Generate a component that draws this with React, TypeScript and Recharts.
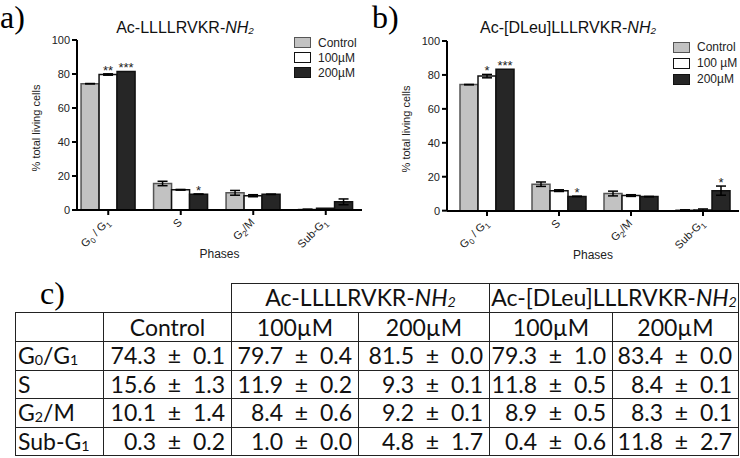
import React from 'react';
import { BarChart, Bar, XAxis, YAxis, ErrorBar, LabelList, Legend } from 'recharts';

// cell-cycle phases (x categories)
const phases = ['G0/G1', 'S', 'G2/M', 'Sub-G1'];

// control, shared by both panels
const controlMean = [74.3, 15.6, 10.1, 0.3];
const controlSem = [0.1, 1.3, 1.4, 0.2];

// panel a: Ac-LLLLRVKR-NH2
const pepA100Mean = [79.7, 11.9, 8.4, 1.0];
const pepA100Sem = [0.4, 0.2, 0.6, 0.0];
const pepA200Mean = [81.5, 9.3, 9.2, 4.8];
const pepA200Sem = [0.0, 0.1, 0.1, 1.7];
const pepA100Stars = ['**', '', '', ''];
const pepA200Stars = ['***', '*', '', ''];

// panel b: Ac-[DLeu]LLLRVKR-NH2
const pepB100Mean = [79.3, 11.8, 8.9, 0.4];
const pepB100Sem = [1.0, 0.5, 0.5, 0.6];
const pepB200Mean = [83.4, 8.4, 8.3, 11.8];
const pepB200Sem = [0.0, 0.1, 0.1, 2.7];
const pepB100Stars = ['*', '', '', ''];
const pepB200Stars = ['***', '*', '', '*'];

const yTicks = [0, 20, 40, 60, 80, 100];
const legendNamesA = ['Control', '100µM', '200µM'];
const legendNamesB = ['Control', '100 µM', '200µM'];

const SANS = '"Liberation Sans", Arial, sans-serif';
const SERIF = '"Liberation Serif", "Times New Roman", serif';
const TABLE_FONT = 'Lato, "Open Sans", sans-serif';

const FILLS = ['#c2c2c2', '#ffffff', '#262626'];
const STROKES = ['#555', '#111', '#111'];

const buildRows = (
  m100: number[], s100: number[], m200: number[], s200: number[],
  st100: string[], st200: string[]
) =>
  phases.map((phase, i) => ({
    phase,
    ctrl: controlMean[i],
    ctrlErr: controlSem[i],
    low: m100[i],
    lowErr: s100[i],
    high: m200[i],
    highErr: s200[i],
    lowStar: st100[i],
    highStar: st200[i],
  }));

const rowsA = buildRows(pepA100Mean, pepA100Sem, pepA200Mean, pepA200Sem, pepA100Stars, pepA200Stars);
const rowsB = buildRows(pepB100Mean, pepB100Sem, pepB200Mean, pepB200Sem, pepB100Stars, pepB200Stars);

// star sits above bar top + error bar
const starLabel = (means: number[], errs: number[]) => (props: any) => {
  const { x, y, width, height, value, index } = props;
  if (!value) return null;
  const perUnit = means[index] ? height / means[index] : 0;
  const top = y - errs[index] * perUnit;
  return (
    <text x={x + width / 2} y={top + 1} textAnchor="middle" fontSize={13} fontFamily={SANS} fill="#222">
      {value}
    </text>
  );
};

const Sub = ({ t }: { t: string }) => (
  <>
    <tspan fontSize={8} dy={3}>{t}</tspan>
    <tspan dy={-3}>{'\u200b'}</tspan>
  </>
);

const PhaseTick = (props: any) => {
  const { x, y, payload } = props;
  const v = payload.value;
  let content: React.ReactNode = v;
  if (v === 'G0/G1') content = (<>G<Sub t="0" /> / G<Sub t="1" /></>);
  if (v === 'G2/M') content = (<>G<Sub t="2" />/M</>);
  if (v === 'Sub-G1') content = (<>Sub-G<Sub t="1" /></>);
  return (
    <g transform={`translate(${x + 2},${y + 8}) rotate(-45)`}>
      <text x={0} y={0} textAnchor="end" fontSize={11} fontFamily={SANS} fill="#222">
        {content}
      </text>
    </g>
  );
};

const yTitle = (props: any) => {
  const vb = props.viewBox;
  const cx = vb.x + 10;
  const cy = vb.y + vb.height / 2 + 3;
  return (
    <text x={cx} y={cy} transform={`rotate(-90 ${cx} ${cy})`} textAnchor="middle" fontSize={11} fontFamily={SANS} fill="#222">
      % total living cells
    </text>
  );
};

const xTitle = (props: any) => {
  const vb = props.viewBox;
  return (
    <text x={vb.x + vb.width / 2} y={vb.y + vb.height + 4} textAnchor="middle" fontSize={12} fontFamily={SANS} fill="#222">
      Phases
    </text>
  );
};

const legendContent = (names: string[], rowH: number) => () => (
  <div style={{ fontFamily: SANS, fontSize: 12, color: '#222' }}>
    {names.map((n, i) => (
      <div key={i} style={{ display: 'flex', alignItems: 'center', height: rowH, whiteSpace: 'nowrap' }}>
        <span
          style={{
            display: 'inline-block', width: 17, height: 11, boxSizing: 'border-box',
            background: FILLS[i], border: `1.5px solid ${STROKES[i]}`, marginRight: 7,
          }}
        />
        {n}
      </div>
    ))}
  </div>
);

type PanelProps = {
  rows: ReturnType<typeof buildRows>;
  names: string[];
  lowMeans: number[]; lowErrs: number[];
  highMeans: number[]; highErrs: number[];
  margin: { top: number; right: number; bottom: number; left: number };
  padLeft: number;
  legendPos: { left: number; top: number };
  legendRowH: number;
};

const Panel = ({ rows, names, lowMeans, lowErrs, highMeans, highErrs, margin, padLeft, legendPos, legendRowH }: PanelProps) => (
  <BarChart width={370} height={262} data={rows} margin={margin} barGap={0} barCategoryGap="12.5%">
    <XAxis
      dataKey="phase"
      height={44}
      padding={{ left: padLeft, right: 0 }}
      axisLine={{ stroke: '#000', strokeWidth: 2 }}
      tickLine={{ stroke: '#000', strokeWidth: 2 }}
      tickSize={5}
      tickMargin={0}
      interval={0}
      tick={<PhaseTick />}
      label={xTitle}
    />
    <YAxis
      type="number"
      domain={[0, 100]}
      ticks={yTicks}
      width={47}
      interval={0}
      axisLine={{ stroke: '#000', strokeWidth: 2 }}
      tickLine={{ stroke: '#000', strokeWidth: 2 }}
      tickSize={5}
      tickMargin={2}
      tick={{ fontSize: 11, fill: '#222', fontFamily: SANS }}
      label={yTitle}
    />
    <Legend
      layout="horizontal"
      verticalAlign="middle"
      align="center"
      wrapperStyle={{ left: legendPos.left, top: legendPos.top, width: 80 }}
      content={legendContent(names, legendRowH)}
    />
    <Bar dataKey="ctrl" name={names[0]} fill={FILLS[0]} stroke={STROKES[0]} strokeWidth={1.5} isAnimationActive={false}>
      <ErrorBar dataKey="ctrlErr" width={5} stroke="#000" strokeWidth={1.5} />
    </Bar>
    <Bar dataKey="low" name={names[1]} fill={FILLS[1]} stroke={STROKES[1]} strokeWidth={1.5} isAnimationActive={false}>
      <ErrorBar dataKey="lowErr" width={5} stroke="#000" strokeWidth={1.5} />
      <LabelList dataKey="lowStar" content={starLabel(lowMeans, lowErrs)} />
    </Bar>
    <Bar dataKey="high" name={names[2]} fill={FILLS[2]} stroke={STROKES[2]} strokeWidth={1.5} isAnimationActive={false}>
      <ErrorBar dataKey="highErr" width={5} stroke="#000" strokeWidth={1.5} />
      <LabelList dataKey="highStar" content={starLabel(highMeans, highErrs)} />
    </Bar>
  </BarChart>
);

const NH2 = ({ size }: { size: number }) => (
  <span style={{ fontStyle: 'italic' }}>
    NH<span style={{ fontSize: size * 0.62, verticalAlign: -size * 0.05 }}>2</span>
  </span>
);

const SubH = ({ t }: { t: string }) => (
  <span style={{ fontSize: '0.62em', verticalAlign: '-0.04em' }}>{t}</span>
);

const rowLabels: React.ReactNode[] = [
  <>G<SubH t="0" />/G<SubH t="1" /></>,
  'S',
  <>G<SubH t="2" />/M</>,
  <>Sub-G<SubH t="1" /></>,
];

const tableCols: [number[], number[]][] = [
  [controlMean, controlSem],
  [pepA100Mean, pepA100Sem],
  [pepA200Mean, pepA200Sem],
  [pepB100Mean, pepB100Sem],
  [pepB200Mean, pepB200Sem],
];
const colWidths = [88, 128, 127, 131, 123, 126];
const rowHeights = [29, 29, 28.5, 28.5, 28.5, 28.5];

const line = '1.5px solid #222';
const cell: React.CSSProperties = { border: line, padding: 0, lineHeight: 1, whiteSpace: 'pre', overflow: 'hidden' };

const SummaryTable = () => (
  <table
    style={{
      position: 'absolute', left: 15, top: 283, borderCollapse: 'collapse', tableLayout: 'fixed',
      width: colWidths.reduce((a, b) => a + b, 0), fontFamily: TABLE_FONT, fontSize: 23, color: '#111',
    }}
  >
    <colgroup>
      {colWidths.map((w, i) => <col key={i} style={{ width: w }} />)}
    </colgroup>
    <tbody>
      <tr style={{ height: rowHeights[0] }}>
        <td style={{ ...cell, border: 'none' }} />
        <td style={{ ...cell, border: 'none' }} />
        <td colSpan={2} style={{ ...cell, textAlign: 'center' }}>Ac-LLLLRVKR-<NH2 size={23} /></td>
        <td colSpan={2} style={{ ...cell, textAlign: 'center' }}>Ac-[DLeu]LLLRVKR-<NH2 size={23} /></td>
      </tr>
      <tr style={{ height: rowHeights[1] }}>
        <td style={cell} />
        {['Control', '100µM', '200µM', '100µM', '200µM'].map((h, i) => (
          <td key={i} style={{ ...cell, textAlign: 'center' }}>{h}</td>
        ))}
      </tr>
      {phases.map((p, r) => (
        <tr key={p} style={{ height: rowHeights[r + 2] }}>
          <td style={{ ...cell, paddingLeft: 2 }}>{rowLabels[r]}</td>
          {tableCols.map(([m, s], c) => (
            <td key={c} style={{ ...cell, textAlign: 'right', paddingRight: 6 }}>
              {`${m[r].toFixed(1)}  ±  ${s[r].toFixed(1)}`}
            </td>
          ))}
        </tr>
      ))}
    </tbody>
  </table>
);

export default function App() {
  return (
    <div style={{ position: 'relative', width: 740, height: 458, background: '#fff', overflow: 'hidden' }}>
      <style>{'body{margin:0}'}</style>

      <div style={{ position: 'absolute', left: 0, top: 0 }}>
        <Panel
          rows={rowsA}
          names={legendNamesA}
          lowMeans={pepA100Mean} lowErrs={pepA100Sem}
          highMeans={pepA200Mean} highErrs={pepA200Sem}
          margin={{ top: 40, right: 8, bottom: 8, left: 30 }}
          padLeft={-5}
          legendPos={{ left: 294, top: 35 }}
          legendRowH={15}
        />
      </div>
      <div style={{ position: 'absolute', left: 370, top: 0 }}>
        <Panel
          rows={rowsB}
          names={legendNamesB}
          lowMeans={pepB100Mean} lowErrs={pepB100Sem}
          highMeans={pepB200Mean} highErrs={pepB200Sem}
          margin={{ top: 41, right: 1, bottom: 7, left: 30 }}
          padLeft={4}
          legendPos={{ left: 303, top: 39 }}
          legendRowH={16}
        />
      </div>

      <div style={{ position: 'absolute', left: 0, top: 1, fontFamily: SERIF, fontSize: 32, lineHeight: 1 }}>a)</div>
      <div style={{ position: 'absolute', left: 372, top: 1, fontFamily: SERIF, fontSize: 32, lineHeight: 1 }}>b)</div>
      <div style={{ position: 'absolute', left: 40, top: 277, fontFamily: SERIF, fontSize: 32, lineHeight: 1 }}>c)</div>

      <div style={{ position: 'absolute', left: 85, width: 200, top: 20, textAlign: 'center', fontFamily: SANS, fontSize: 16, lineHeight: 1, color: '#111' }}>
        Ac-LLLLRVKR-<NH2 size={16} />
      </div>
      <div style={{ position: 'absolute', left: 468, width: 200, top: 20, textAlign: 'center', fontFamily: SANS, fontSize: 16, lineHeight: 1, color: '#111' }}>
        Ac-[DLeu]LLLRVKR-<NH2 size={16} />
      </div>

      <SummaryTable />
    </div>
  );
}
